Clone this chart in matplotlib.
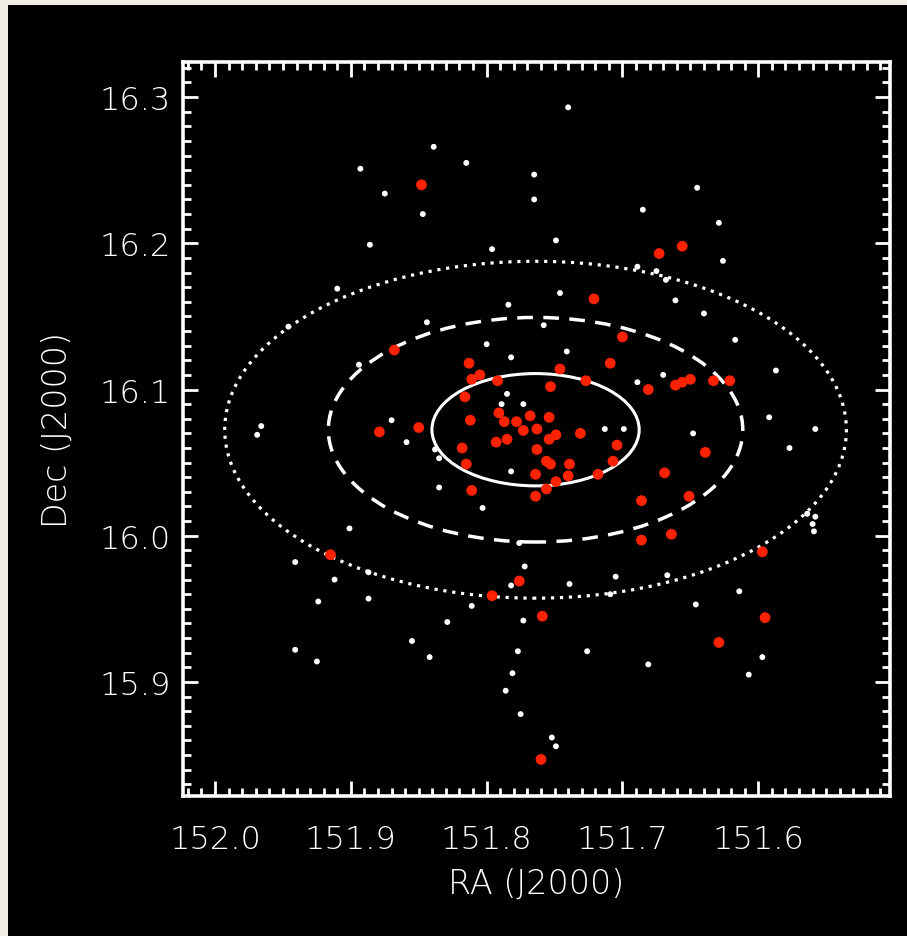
import matplotlib
matplotlib.use("Agg")
import matplotlib.pyplot as plt
from matplotlib.patches import Ellipse, Rectangle
from matplotlib.ticker import MultipleLocator
import numpy as np

# cluster members (red) and field sources (white), RA/Dec in degrees
red_ra = [151.848, 151.656, 151.673, 151.721, 151.700, 151.868, 151.813, 151.709,
          151.746, 151.805, 151.811, 151.792, 151.727, 151.753, 151.681, 151.661,
          151.656, 151.650, 151.633, 151.621, 151.816, 151.812, 151.791, 151.787,
          151.778, 151.768, 151.754, 151.773, 151.763, 151.749, 151.754, 151.731,
          151.879, 151.850, 151.793, 151.785, 151.818, 151.763, 151.704, 151.639,
          151.707, 151.815, 151.756, 151.753, 151.739, 151.764, 151.740, 151.718,
          151.669, 151.749, 151.756, 151.811, 151.764, 151.686, 151.651, 151.664,
          151.686, 151.915, 151.597, 151.776, 151.796, 151.759, 151.595, 151.629,
          151.760]
red_dec = [16.240, 16.198, 16.193, 16.162, 16.136, 16.127, 16.118, 16.118,
           16.114, 16.110, 16.107, 16.106, 16.106, 16.102, 16.100, 16.103,
           16.105, 16.107, 16.106, 16.106, 16.095, 16.079, 16.084, 16.078,
           16.078, 16.082, 16.081, 16.072, 16.073, 16.069, 16.066, 16.070,
           16.071, 16.074, 16.064, 16.066, 16.060, 16.059, 16.062, 16.057,
           16.051, 16.049, 16.051, 16.049, 16.049, 16.042, 16.041, 16.042,
           16.043, 16.037, 16.032, 16.031, 16.027, 16.024, 16.027, 16.001,
           15.997, 15.987, 15.989, 15.969, 15.959, 15.945, 15.944, 15.927,
           15.847]

white_ra = [151.740, 151.839, 151.815, 151.893, 151.765, 151.645, 151.875, 151.765,
            151.685, 151.847, 151.629, 151.749, 151.886, 151.796, 151.626, 151.689,
            151.675, 151.668, 151.910, 151.746, 151.661, 151.784, 151.640, 151.844,
            151.946, 151.758, 151.617, 151.800, 151.741, 151.782, 151.894, 151.587,
            151.670, 151.689, 151.785, 151.789, 151.773, 151.592, 151.870, 151.966,
            151.969, 151.713, 151.699, 151.648, 151.558, 151.859, 151.577, 151.838,
            151.835, 151.782, 151.835, 151.803, 151.564, 151.558, 151.560, 151.559,
            151.901, 151.776, 151.941, 151.772, 151.887, 151.705, 151.667, 151.912,
            151.739, 151.782, 151.614, 151.709, 151.887, 151.924, 151.646, 151.811,
            151.773, 151.829, 151.855, 151.941, 151.777, 151.726, 151.597, 151.842,
            151.925, 151.681, 151.781, 151.607, 151.786, 151.775, 151.752, 151.749]
white_dec = [16.293, 16.266, 16.255, 16.251, 16.247, 16.238, 16.234, 16.230,
             16.223, 16.220, 16.214, 16.202, 16.199, 16.196, 16.188, 16.184,
             16.181, 16.175, 16.169, 16.166, 16.161, 16.158, 16.152, 16.146,
             16.143, 16.144, 16.134, 16.131, 16.126, 16.122, 16.117, 16.113,
             16.110, 16.105, 16.097, 16.090, 16.090, 16.081, 16.079, 16.075,
             16.069, 16.073, 16.073, 16.070, 16.073, 16.064, 16.060, 16.059,
             16.053, 16.044, 16.033, 16.019, 16.015, 16.013, 16.008, 16.003,
             16.005, 15.995, 15.982, 15.979, 15.975, 15.972, 15.973, 15.970,
             15.967, 15.966, 15.962, 15.960, 15.957, 15.955, 15.953, 15.952,
             15.942, 15.941, 15.928, 15.922, 15.921, 15.921, 15.917, 15.917,
             15.914, 15.912, 15.906, 15.905, 15.894, 15.878, 15.862, 15.856]

# ellipse centre and semi-axes (deg); drawn at 1x, 2x, 3x
ell_ra, ell_dec = 151.764, 16.0725
ell_a, ell_b = 0.0763, 0.0384
ell_scales = [1, 2, 3]
ell_styles = ["-", (0, (4.5, 3)), (0, (1, 1.8))]
ell_widths = [2.2, 2.5, 2.3]

plt.rcParams["font.family"] = ["DejaVu Sans"]
plt.rcParams["font.weight"] = "light"
plt.rcParams["axes.labelweight"] = "light"

fig = plt.figure(figsize=(9.07, 9.37), dpi=100, facecolor="#f1eee8")
# black panel, leaving a thin light margin at left and top
fig.add_artist(Rectangle((8 / 907, 0), 1, 1 - 6 / 937, transform=fig.transFigure,
                         facecolor="black", edgecolor="none", zorder=-10))

ax = fig.add_axes([183 / 907, 1 - 797 / 937, 707 / 907, 734 / 937])
ax.set_facecolor("black")

for k, ls, lw in zip(ell_scales, ell_styles, ell_widths):
    e = Ellipse((ell_ra, ell_dec), 2 * k * ell_a, 2 * k * ell_b, fill=False,
                edgecolor="white", linestyle=ls, linewidth=lw, zorder=2)
    ax.add_patch(e)

ax.scatter(white_ra, white_dec, s=18, c="white", edgecolors="none", zorder=3)
ax.scatter(red_ra, red_dec, s=60, c="#ff2200", edgecolors="none", zorder=4)

ax.set_xlim(152.0236, 151.503)
ax.set_ylim(15.822, 16.324)

ax.xaxis.set_major_locator(MultipleLocator(0.1))
ax.xaxis.set_minor_locator(MultipleLocator(0.01))
ax.yaxis.set_major_locator(MultipleLocator(0.1))
ax.yaxis.set_minor_locator(MultipleLocator(0.01))
ax.xaxis.set_major_formatter(lambda v, p: "%.1f" % v)
ax.yaxis.set_major_formatter(lambda v, p: "%.1f" % v)

for sp in ax.spines.values():
    sp.set_color("white")
    sp.set_linewidth(2.6)

ax.tick_params(which="both", direction="in", top=True, right=True, colors="white",
               labelcolor="white", labelsize=23)
ax.tick_params(which="major", length=11, width=2.0)
ax.tick_params(which="minor", length=5.5, width=2.0)
ax.tick_params(axis="x", which="major", pad=20)
ax.tick_params(axis="y", which="major", pad=9)

ax.set_xlabel("RA (J2000)", color="white", fontsize=24, labelpad=9)
ax.set_ylabel("Dec (J2000)", color="white", fontsize=24, labelpad=18)

fig.savefig("out.png", dpi=100, facecolor=fig.get_facecolor())
